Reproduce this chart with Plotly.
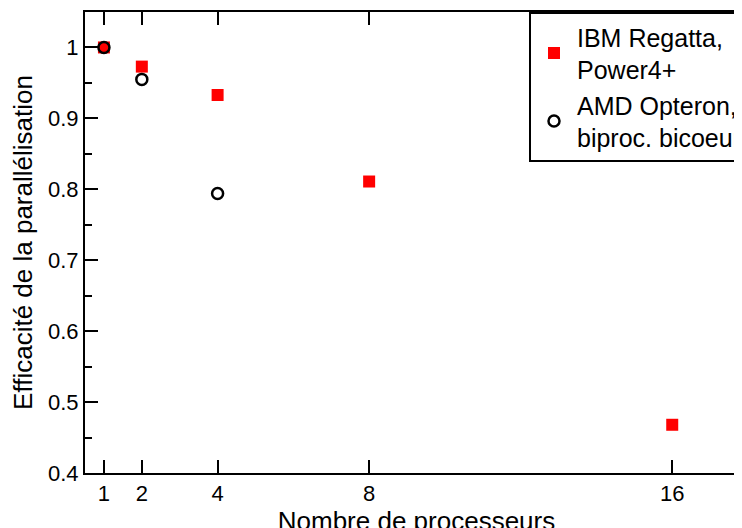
import plotly.graph_objects as go

# Data
ibm_procs = [1, 2, 4, 8, 16]
ibm_eff = [1.0, 0.973, 0.933, 0.811, 0.468]
amd_procs = [1, 2, 4]
amd_eff = [1.0, 0.955, 0.794]
x_ticks = [1, 2, 4, 8, 16]
y_ticks = [0.4, 0.5, 0.6, 0.7, 0.8, 0.9, 1]
y_tick_text = ["0.4", "0.5", "0.6", "0.7", "0.8", "0.9", "1"]

FONT = "Liberation Sans, Arial, sans-serif"

fig = go.Figure()
fig.add_trace(go.Scatter(
    x=ibm_procs, y=ibm_eff, mode="markers",
    name="IBM Regatta,<br>Power4+",
    marker=dict(symbol="square", size=12, color="#ff0000", line=dict(width=0)),
))
fig.add_trace(go.Scatter(
    x=amd_procs, y=amd_eff, mode="markers",
    name="AMD Opteron,<br>biproc. bicoeur",
    marker=dict(symbol="circle", size=11, color="rgba(0,0,0,0)",
                line=dict(width=2.5, color="black")),
))

axis_common = dict(
    showline=True, linecolor="black", linewidth=2, mirror="allticks",
    ticks="inside", tickcolor="black", tickwidth=2, ticklen=13,
    showgrid=False, zeroline=False,
    tickfont=dict(family=FONT, size=22, color="black"),
)

fig.update_xaxes(
    range=[0.5, 18], tickmode="array", tickvals=x_ticks,
    title=dict(text="Nombre de processeurs", font=dict(family=FONT, size=26, color="black"), standoff=0),
    **axis_common,
)
fig.update_yaxes(
    range=[0.4, 1.05], tickmode="array", tickvals=y_ticks, ticktext=y_tick_text,
    minor=dict(dtick=0.05, ticks="inside", ticklen=7, tickwidth=2, tickcolor="black", showgrid=False),
    title=dict(text="Efficacité de la parallélisation", font=dict(family=FONT, size=26, color="black"), standoff=9),
    **axis_common,
)

fig.update_layout(
    width=752, height=528,
    margin=dict(l=77, r=12, t=2, b=63),
    plot_bgcolor="white", paper_bgcolor="white",
    font=dict(family=FONT, size=22, color="black"),
    showlegend=True,
    legend=dict(
        x=1, xanchor="right", y=1, yanchor="top",
        bordercolor="black", borderwidth=2, bgcolor="white",
        font=dict(family=FONT, size=25, color="black"),
        itemsizing="trace", tracegroupgap=6, itemwidth=36,
    ),
)

fig.write_html("out.html")
